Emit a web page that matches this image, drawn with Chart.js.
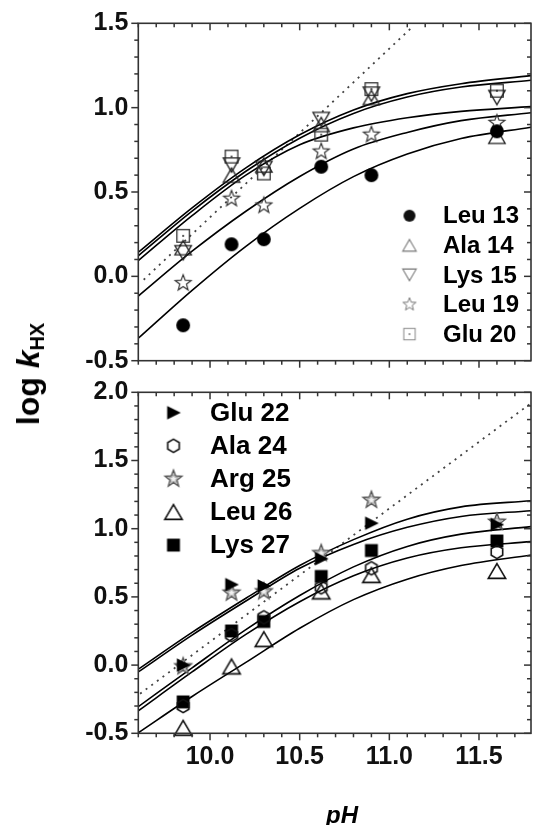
<!DOCTYPE html>
<html>
<head>
<meta charset="utf-8">
<script src="https://cdn.jsdelivr.net/npm/chart.js@4.4.1/dist/chart.umd.min.js"></script>
<style>
  html, body { margin: 0; padding: 0; background: #fff; }
  #wrap { position: relative; width: 538px; height: 825px; overflow: hidden; background: #fff; }
  canvas { position: absolute; left: 0; }
  #c1 { top: 0; }
  #c2 { top: 380px; }
  #ytitle { position: absolute; left: 28px; top: 374px; transform: translate(-50%, -50%) rotate(-90deg);
    font: bold 32px "Liberation Sans", Arial, sans-serif; line-height: 32px; white-space: nowrap; color: #000; }
  #ytitle sub { font-size: 20px; line-height: 0; vertical-align: -5px; font-style: normal; }
  #xtitle { position: absolute; left: 342px; top: 803px; transform: translateX(-50%);
    font: italic bold 24px "Liberation Sans", Arial, sans-serif; line-height: 24px; white-space: nowrap; color: #000; }
</style>
</head>
<body>
<div id="wrap">
  <canvas id="c1" width="538" height="380"></canvas>
  <canvas id="c2" width="538" height="445"></canvas>
  <div id="ytitle">log <i>k</i><sub>HX</sub></div>
  <div id="xtitle">pH</div>
</div>
<script>
// ---------------- data ----------------
const pH = [9.85, 10.12, 10.30, 10.62, 10.90, 11.60];

// top panel
const labelsTop = ['Leu 13', 'Ala 14', 'Lys 15', 'Leu 19', 'Glu 20'];
const leu13 = [-0.29, 0.19, 0.22, 0.65, 0.60, 0.86];
const ala14 = [0.17, 0.60, 0.66, 0.90, 1.06, 0.83];
const lys15 = [0.14, 0.66, 0.64, 0.93, 1.08, 1.06];
const leu19 = [-0.04, 0.46, 0.42, 0.74, 0.84, 0.91];
const glu20 = [0.24, 0.71, 0.61, 0.84, 1.11, 1.10];

// bottom panel
const labelsBottom = ['Glu 22', 'Ala 24', 'Arg 25', 'Leu 26', 'Lys 27'];
const glu22 = [0.00, 0.59, 0.58, 0.78, 1.04, 1.03];
const ala24 = [-0.30, 0.22, 0.35, 0.57, 0.71, 0.83];
const arg25 = [-0.01, 0.53, 0.54, 0.82, 1.21, 1.05];
const leu26 = [-0.46, -0.01, 0.19, 0.54, 0.66, 0.69];
const lys27 = [-0.27, 0.25, 0.32, 0.65, 0.84, 0.91];

// fitted curves, read at these pH values
const fitPH = [9.6, 9.9, 10.2, 10.5, 10.8, 11.1, 11.4, 11.79];
const fitTop1 = [0.143, 0.406, 0.643, 0.839, 0.986, 1.083, 1.142, 1.19];
const fitTop2 = [0.122, 0.387, 0.623, 0.819, 0.966, 1.063, 1.122, 1.162];
const fitTop3 = [0.093, 0.36, 0.60, 0.78, 0.88, 0.94, 0.978, 1.006];
const fitTop4 = [-0.117, 0.149, 0.386, 0.592, 0.755, 0.853, 0.923, 0.97];
const fitTop5 = [-0.367, -0.083, 0.178, 0.403, 0.591, 0.725, 0.817, 0.884];

const fitBot1 = [-0.03, 0.24, 0.49, 0.73, 0.92, 1.07, 1.16, 1.205];
const fitBot2 = [-0.05, 0.22, 0.47, 0.71, 0.885, 1.01, 1.09, 1.132];
const fitBot3 = [-0.305, -0.02, 0.26, 0.51, 0.72, 0.87, 0.96, 1.015];
const fitBot4 = [-0.335, -0.05, 0.225, 0.465, 0.655, 0.785, 0.86, 0.905];
const fitBot5 = [-0.496, -0.23, 0.02, 0.27, 0.48, 0.63, 0.73, 0.807];

// dotted reference lines
const refTopPH = [9.63, 11.12];
const refTopLog = [-0.02, 1.47];
const refBotPH = [9.61, 11.79];
const refBotLog = [-0.21, 1.92];

// axes
const xMin = 9.6, xMax = 11.79;
const xTicks = [10.0, 10.5, 11.0, 11.5];
const yTicksTop = [-0.5, 0.0, 0.5, 1.0, 1.5];
const yTicksBottom = [-0.5, 0.0, 0.5, 1.0, 1.5, 2.0];

// ---------------- markers ----------------
function marker(draw, size) {
  const c = document.createElement('canvas');
  c.width = size || 26; c.height = size || 26;
  const g = c.getContext('2d');
  g.translate(c.width / 2, c.height / 2);
  g.lineJoin = 'miter';
  draw(g);
  return c;
}
function starPath(g, R, r) {
  g.beginPath();
  for (let i = 0; i < 10; i++) {
    const a = -Math.PI / 2 + i * Math.PI / 5;
    const rr = i % 2 === 0 ? R : r;
    g.lineTo(rr * Math.cos(a), rr * Math.sin(a));
  }
  g.closePath();
}
const M = {
  circle: (s, col) => marker(g => { g.fillStyle = col; g.beginPath(); g.arc(0, 0, 6.3 * s, 0, 2 * Math.PI); g.fill(); }),
  triUp: (s, col, lw) => marker(g => { const w = 15 * s, h = 13 * s; g.strokeStyle = col; g.lineWidth = lw;
    g.beginPath(); g.moveTo(0, -h / 2); g.lineTo(w / 2, h / 2); g.lineTo(-w / 2, h / 2); g.closePath(); g.stroke(); }),
  triDown: (s, col, lw) => marker(g => { const w = 15 * s, h = 13 * s; g.strokeStyle = col; g.lineWidth = lw;
    g.beginPath(); g.moveTo(0, h / 2); g.lineTo(w / 2, -h / 2); g.lineTo(-w / 2, -h / 2); g.closePath(); g.stroke(); }),
  star: (s, col, lw) => marker(g => { g.strokeStyle = col; g.lineWidth = lw; starPath(g, 7.6 * s, 3.2 * s); g.stroke(); }),
  squareDot: (s, col, lw) => marker(g => { const a = 12 * s; g.strokeStyle = col; g.lineWidth = lw;
    g.strokeRect(-a / 2, -a / 2, a, a); g.fillStyle = col; g.fillRect(-0.9, -0.9, 1.8, 1.8); }),
  triRight: (s, col) => marker(g => { g.fillStyle = col; g.beginPath();
    g.moveTo(-6 * s, -6.5 * s); g.lineTo(7 * s, 0); g.lineTo(-6 * s, 6.5 * s); g.closePath(); g.fill(); }),
  hexagon: (s, col, lw) => marker(g => { g.strokeStyle = col; g.lineWidth = lw; g.beginPath();
    for (let i = 0; i < 6; i++) { const a = -Math.PI / 2 + i * Math.PI / 3; g.lineTo(6.3 * s * Math.cos(a), 6.3 * s * Math.sin(a)); }
    g.closePath(); g.stroke(); }),
  grayStar: (s) => marker(g => { starPath(g, 8.3 * s, 3.5 * s); g.fillStyle = '#f2f2f2'; g.fill();
    g.strokeStyle = '#555'; g.lineWidth = 1.4; g.stroke();
    starPath(g, 4.6 * s, 2.0 * s); g.strokeStyle = '#aaa'; g.lineWidth = 1; g.stroke(); }),
  triUpBig: (s, col, lw) => marker(g => { const w = 16.5 * s, h = 14 * s; g.strokeStyle = col; g.lineWidth = lw;
    g.beginPath(); g.moveTo(0, -h / 2); g.lineTo(w / 2, h / 2); g.lineTo(-w / 2, h / 2); g.closePath(); g.stroke(); }),
  square: (s, col) => marker(g => { const a = 12.3 * s; g.fillStyle = col; g.fillRect(-a / 2, -a / 2, a, a); })
};

const topMarkers = [M.circle(1.1, '#000'), M.triUp(1.1, '#222', 1.3), M.triDown(1.1, '#222', 1.3), M.star(1.1, '#333', 1.2), M.squareDot(1.05, '#333', 1.3)];
const topLegendMarkers = [M.circle(0.95, '#111'), M.triUp(0.9, '#777', 1.1), M.triDown(0.9, '#777', 1.1), M.star(0.9, '#777', 1.0), M.squareDot(0.95, '#888', 1.0)];
const botMarkers = [M.triRight(1.05, '#000'), M.hexagon(1.05, '#111', 1.6), M.grayStar(1.05), M.triUpBig(1.05, '#111', 1.6), M.square(1.05, '#000')];

// ---------------- helpers ----------------
const zip = (xs, ys) => xs.map((x, i) => ({ x: x, y: ys[i] }));
const FONT = '"Liberation Sans", Arial, Helvetica, sans-serif';

function curve(ys) {
  return { data: zip(fitPH, ys), showLine: true, borderColor: '#000', borderWidth: 1.6, pointRadius: 0,
    cubicInterpolationMode: 'monotone', fill: false, order: 3 };
}
function refLine(xs, ys) {
  return { data: zip(xs, ys), showLine: true, borderColor: '#444', borderWidth: 1.8, borderDash: [2, 5],
    pointRadius: 0, tension: 0, fill: false, order: 4 };
}
function points(label, ys, mk, legendMk) {
  return { label: label, data: zip(pH, ys), showLine: false, pointStyle: mk, pointRadius: 7,
    pointBorderWidth: 0, clip: false, order: 1, legendMarker: legendMk || mk };
}

// frame and Origin-style ticks (major every 0.5, minor every 0.1)
const frameTicks = {
  id: 'frameTicks',
  afterDraw(chart) {
    const ctx = chart.ctx, a = chart.chartArea, x = chart.scales.x, y = chart.scales.y;
    ctx.save();
    ctx.strokeStyle = '#333';
    ctx.lineWidth = 1.5;
    const ln = (x1, y1, x2, y2) => { ctx.beginPath(); ctx.moveTo(x1, y1); ctx.lineTo(x2, y2); ctx.stroke(); };
    for (let i = Math.ceil(x.min * 10 - 1e-6); i <= Math.floor(x.max * 10 + 1e-6); i++) {
      const px = x.getPixelForValue(i / 10);
      const L = (i % 5 === 0) ? 7 : 4;
      ln(px, a.bottom, px, a.bottom + L);
      ln(px, a.top, px, a.top + L);
    }
    for (let i = Math.ceil(y.min * 10 - 1e-6); i <= Math.floor(y.max * 10 + 1e-6); i++) {
      const py = y.getPixelForValue(i / 10);
      const L = (i % 5 === 0) ? 7 : 4;
      ln(a.left - L, py, a.left, py);
      ln(a.right - L, py, a.right, py);
    }
    ctx.lineWidth = 1.6;
    ctx.strokeRect(a.left, a.top, a.right - a.left, a.bottom - a.top);
    ctx.restore();
  }
};

// legend drawn inside the plot
const insetLegend = {
  id: 'insetLegend',
  afterDraw(chart, args, o) {
    const ctx = chart.ctx;
    const items = chart.data.datasets.filter(d => d.legendMarker && d.label);
    ctx.save();
    ctx.fillStyle = '#000';
    ctx.font = 'bold ' + o.size + 'px ' + FONT;
    ctx.textBaseline = 'middle';
    ctx.textAlign = 'left';
    items.forEach((d, i) => {
      const yy = o.y + i * o.dy;
      const m = d.legendMarker;
      ctx.drawImage(m, o.mx - m.width / 2, yy - m.height / 2);
      ctx.fillText(d.label, o.tx, yy + 1);
    });
    ctx.restore();
  }
};

function yScale(min, max, ticks) {
  return {
    type: 'linear', min: min, max: max,
    grid: { display: false, drawTicks: false }, border: { display: false },
    ticks: { color: '#111', padding: 10, font: { family: FONT, size: 25, weight: 'bold' },
      callback: v => Number(v).toFixed(1) },
    afterBuildTicks: s => { s.ticks = ticks.map(v => ({ value: v })); },
    afterFit: s => { s.width = 138.3; s.paddingTop = 0; s.paddingBottom = 0; }
  };
}

const common = {
  responsive: false, animation: false, devicePixelRatio: 1, events: [],
};

// ---------------- top chart ----------------
new Chart(document.getElementById('c1'), {
  type: 'line',
  data: {
    datasets: [
      points(labelsTop[0], leu13, topMarkers[0], topLegendMarkers[0]),
      points(labelsTop[1], ala14, topMarkers[1], topLegendMarkers[1]),
      points(labelsTop[2], lys15, topMarkers[2], topLegendMarkers[2]),
      points(labelsTop[3], leu19, topMarkers[3], topLegendMarkers[3]),
      points(labelsTop[4], glu20, topMarkers[4], topLegendMarkers[4]),
      curve(fitTop1), curve(fitTop2), curve(fitTop3), curve(fitTop4), curve(fitTop5),
      refLine(refTopPH, refTopLog)
    ]
  },
  options: Object.assign({}, common, {
    layout: { padding: { top: 23.3, right: 1.5, bottom: 19.3, left: 0 } },
    plugins: { legend: { display: false }, tooltip: { enabled: false },
      insetLegend: { mx: 409.5, tx: 443, y: 215.7, dy: 29.6, size: 24 } },
    scales: {
      x: { type: 'linear', min: xMin, max: xMax, display: false },
      y: yScale(-0.5, 1.5, yTicksTop)
    }
  }),
  plugins: [frameTicks, insetLegend]
});

// ---------------- bottom chart ----------------
new Chart(document.getElementById('c2'), {
  type: 'line',
  data: {
    datasets: [
      points(labelsBottom[0], glu22, botMarkers[0]),
      points(labelsBottom[1], ala24, botMarkers[1]),
      points(labelsBottom[2], arg25, botMarkers[2]),
      points(labelsBottom[3], leu26, botMarkers[3]),
      points(labelsBottom[4], lys27, botMarkers[4]),
      curve(fitBot1), curve(fitBot2), curve(fitBot3), curve(fitBot4), curve(fitBot5),
      refLine(refBotPH, refBotLog)
    ]
  },
  options: Object.assign({}, common, {
    layout: { padding: { top: 12.3, right: 1.5, bottom: 0, left: 0 } },
    plugins: { legend: { display: false }, tooltip: { enabled: false },
      insetLegend: { mx: 173.5, tx: 210, y: 32.7, dy: 33.1, size: 26 } },
    scales: {
      x: {
        type: 'linear', min: xMin, max: xMax,
        grid: { display: false, drawTicks: false }, border: { display: false },
        ticks: { color: '#111', padding: 9, maxRotation: 0, font: { family: FONT, size: 25, weight: 'bold' },
          callback: v => Number(v).toFixed(1) },
        afterBuildTicks: s => { s.ticks = xTicks.map(v => ({ value: v })); },
        afterFit: s => { s.height = 445 - 353.3; s.paddingLeft = 0; s.paddingRight = 0; }
      },
      y: yScale(-0.5, 2.0, yTicksBottom)
    }
  }),
  plugins: [frameTicks, insetLegend]
});
</script>
</body>
</html>
